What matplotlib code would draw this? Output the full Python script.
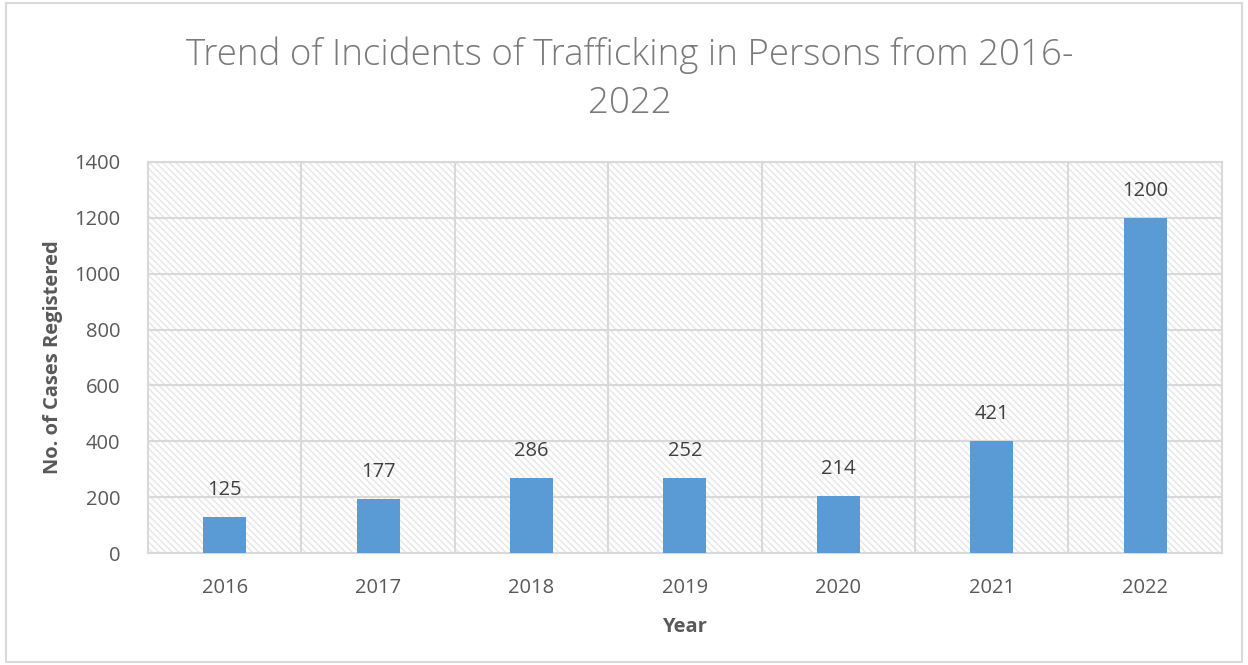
import matplotlib.pyplot as plt
from matplotlib.patches import Rectangle

years = ['2016', '2017', '2018', '2019', '2020', '2021', '2022']
# bar heights as drawn in the chart
cases = [129, 193, 268, 268, 204, 401, 1200]
# data labels printed above the bars
labels = ['125', '177', '286', '252', '214', '421', '1200']

plt.rcParams['font.family'] = ['Open Sans', 'DejaVu Sans']
plt.rcParams['hatch.linewidth'] = 1.0
text_color = '#595959'
grid_color = '#d9d9d9'

fig = plt.figure(figsize=(12.48, 6.65), dpi=100)
ax = fig.add_axes([0.1186, 0.1684, 0.8604, 0.588])

# hatched plot area background
ax.add_patch(Rectangle((0, 0), 1, 1, transform=ax.transAxes, facecolor='white',
                       edgecolor='#e6e6e6', hatch='\\\\\\\\\\', linewidth=0, zorder=0))

x = range(len(years))
ax.bar(x, cases, width=0.28, color='#5b9bd5', zorder=3)
for i, (v, lab) in enumerate(zip(cases, labels)):
    ax.annotate(lab, (i, v), xytext=(0, 12), textcoords='offset points',
                ha='center', va='bottom', fontsize=14.5, color='#404040', zorder=4)

ax.set_xlim(-0.5, len(years) - 0.5)
ax.set_ylim(0, 1400)
ax.set_yticks(range(0, 1401, 200))
ax.set_xticks(list(x))
ax.set_xticklabels(years)

# horizontal gridlines and vertical category separators
for yv in range(200, 1401, 200):
    ax.axhline(yv, color=grid_color, lw=1.5, zorder=1)
for xv in [i + 0.5 for i in range(len(years) - 1)]:
    ax.axvline(xv, color=grid_color, lw=1.5, zorder=1)
for s in ax.spines.values():
    s.set_color(grid_color)
    s.set_linewidth(1.5)

ax.tick_params(length=0, labelsize=14.5, colors=text_color)
ax.tick_params(axis='x', pad=18)
ax.tick_params(axis='y', pad=20)
ax.set_xlabel('Year', fontsize=14.5, fontweight='bold', color=text_color, labelpad=14)
ax.set_ylabel('No. of Cases Registered', fontsize=14.5, fontweight='bold', color=text_color, labelpad=8)

fig.text(0.505, 0.881, 'Trend of Incidents of Trafficking in Persons from 2016-\n2022',
         ha='center', va='center', fontsize=26.5, color='#7a7a7a', fontweight='light',
         linespacing=1.38)

# outer chart border
fig.add_artist(Rectangle((0.005, 0.005), 0.99, 0.99, transform=fig.transFigure,
                         fill=False, edgecolor='#d9d9d9', linewidth=1.5))

fig.savefig('out.png', dpi=100)
